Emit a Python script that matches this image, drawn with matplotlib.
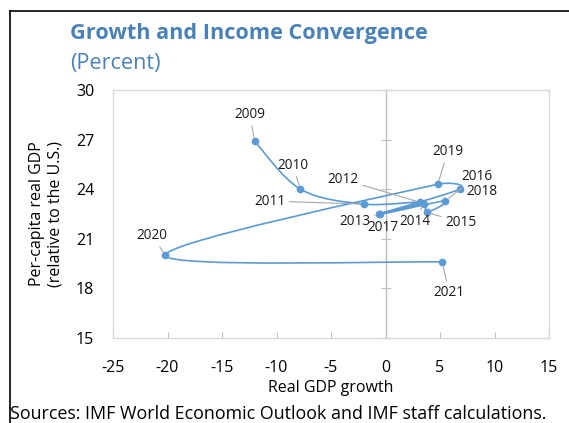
import numpy as np
import matplotlib
matplotlib.use("Agg")
import matplotlib.pyplot as plt
from matplotlib.path import Path
from matplotlib.patches import PathPatch
from matplotlib.lines import Line2D

plt.rcParams["font.family"] = ["Open Sans", "DejaVu Sans"]
plt.rcParams["axes.unicode_minus"] = False

# Real GDP growth vs per-capita real GDP relative to the U.S.
years = [2009, 2010, 2011, 2012, 2013, 2014, 2015, 2016, 2017, 2018, 2019, 2020, 2021]
gdp_growth = [-12.0, -7.8, -2.0, 3.2, -0.6, 3.5, 3.8, 5.5, -0.5, 6.8, 4.8, -20.2, 5.2]
rel_income = [26.9, 24.0, 23.1, 23.2, 22.5, 23.1, 22.6, 23.3, 22.5, 24.0, 24.3, 20.0, 19.6]

# label offsets in pixels (dx, dy) and whether a leader line is drawn
label_offsets = {
    2009: (-5, 27, True), 2010: (-8, 24, True), 2011: (-94, 3, True),
    2012: (-77, 23, True), 2013: (-24, -7, True), 2014: (-9, -17, True),
    2015: (34, -10, True), 2016: (31, 24, True), 2017: (3, -13, False),
    2018: (22, -2, False), 2019: (10, 33, True), 2020: (-13, 20, True),
    2021: (7, -31, True),
}

BLUE = "#5b9bd5"
TITLE_BLUE = "#4a81b8"
GRID_GREY = "#d9d9d9"
AXIS_GREY = "#bfbfbf"


def smooth_path(ax, xs, ys, k=1.0 / 6, cap=0.5):
    # cardinal-spline Bezier through the points, built in pixel space so the
    # control handles can be capped relative to each segment's length
    to_px = ax.transData
    pts = to_px.transform(np.column_stack([xs, ys]).astype(float))
    n = len(pts)
    verts = [pts[0]]
    codes = [Path.MOVETO]

    def capped(v, seg):
        lim = cap * np.hypot(*seg)
        ln = np.hypot(*v)
        return v if ln <= lim or ln == 0 else v * lim / ln

    for i in range(n - 1):
        p0 = pts[i - 1] if i > 0 else pts[i]
        p1 = pts[i]
        p2 = pts[i + 1]
        p3 = pts[i + 2] if i + 2 < n else pts[i + 1]
        seg = p2 - p1
        c1 = p1 + capped((p2 - p0) * k, seg)
        c2 = p2 - capped((p3 - p1) * k, seg)
        verts += [c1, c2, p2]
        codes += [Path.CURVE4] * 3
    verts = to_px.inverted().transform(np.array(verts))
    return Path(verts, codes)


fig = plt.figure(figsize=(5.69, 4.23), dpi=100)
W, H = 569, 423
ax = fig.add_axes([113 / W, 1 - 338 / H, 436 / W, 248 / H])
ax.set_xlim(-25, 15)
ax.set_ylim(15, 30)

ax.add_patch(PathPatch(smooth_path(ax, gdp_growth, rel_income), facecolor="none",
                       edgecolor=BLUE, lw=1.2, zorder=3))
ax.plot(gdp_growth, rel_income, "o", color=BLUE, markersize=4.5, zorder=4)

for yr, x, y in zip(years, gdp_growth, rel_income):
    dx, dy, leader = label_offsets[yr]
    props = None
    if leader:
        props = dict(arrowstyle="-", color="#a6a6a6", lw=0.8, shrinkA=1, shrinkB=3)
    ax.annotate(str(yr), (x, y), xytext=(dx, dy), textcoords="offset pixels",
                ha="center", va="center", fontsize=9.8, color="#1a1a1a",
                arrowprops=props, zorder=5)

ax.set_xticks(np.arange(-25, 16, 5))
ax.set_yticks(np.arange(15, 31, 3))
for s in ax.spines.values():
    s.set_color(GRID_GREY)
    s.set_linewidth(1)
ax.tick_params(axis="x", direction="in", length=4, color=AXIS_GREY,
               labelsize=11.5, pad=16)
ax.tick_params(axis="y", length=0, labelsize=11.5, pad=13.5)

# vertical axis drawn through x = 0, with crossing tick marks
ax.axvline(0, color=AXIS_GREY, lw=1, zorder=1)
yax = ax.secondary_yaxis(location=25 / 40)
yax.set_yticks(np.arange(15, 31, 3))
yax.tick_params(direction="inout", length=7, color=AXIS_GREY,
                labelleft=False, labelright=False)
for s in yax.spines.values():
    s.set_visible(False)

ax.set_xlabel("Real GDP growth", fontsize=11.5, labelpad=3)
ax.set_ylabel("Per-capita real GDP\n(relative to the U.S.)", fontsize=11.5,
              labelpad=9, linespacing=1.2)

fig.text(70 / W, 1 - 33 / H, "Growth and Income Convergence", fontsize=15.6,
         fontweight="bold", color=TITLE_BLUE, va="center", ha="left")
fig.text(70 / W, 1 - 63 / H, "(Percent)", fontsize=15.6, color=TITLE_BLUE,
         va="center", ha="left")
fig.text(10 / W, 1 - 414 / H, "Sources: IMF World Economic Outlook and IMF staff calculations.",
         fontsize=12.9, color="black", va="center", ha="left")

# outer frame (top and left edges)
fig.add_artist(Line2D([10 / W, 1.0], [1 - 11 / H, 1 - 11 / H], color="black", lw=1.2))
fig.add_artist(Line2D([10 / W, 10 / W], [1 - 11 / H, 0.0], color="black", lw=1.2))

fig.savefig("out.png", dpi=100)
